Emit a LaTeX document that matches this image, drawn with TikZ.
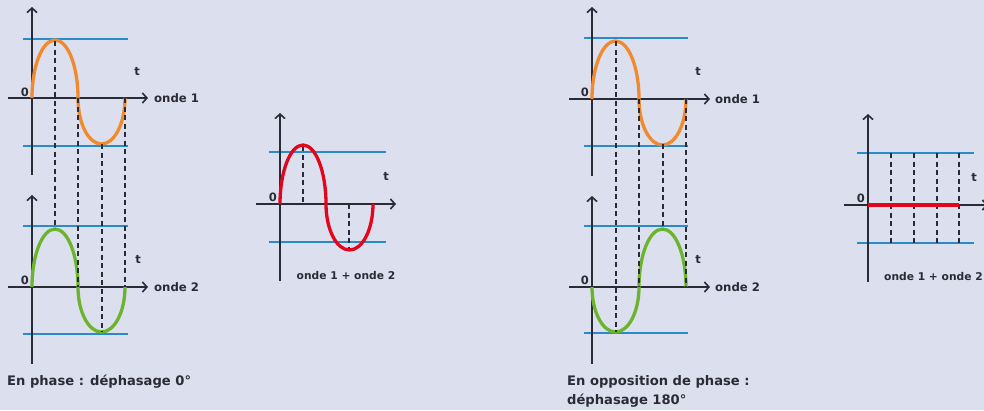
\documentclass[tikz,border=0pt]{standalone}
\usepackage{fontspec}
\setmainfont{DejaVu Sans}
\usetikzlibrary{arrows.meta}
\definecolor{bgc}{HTML}{DCDFEE}
\definecolor{axc}{HTML}{2B2B35}
\definecolor{bluec}{HTML}{2A8BCB}
\definecolor{orangec}{HTML}{F08A2C}
\definecolor{greenc}{HTML}{6DB42E}
\definecolor{redc}{HTML}{E2061C}
\tikzset{
  axis/.style={draw=axc, line width=1.7pt},
  axisarrow/.style={axis, -{Straight Barb[length=4.5pt,width=10pt,line width=1.6pt]}},
  level/.style={draw=bluec, line width=2pt},
  wave/.style={line width=3.3pt, line cap=butt},
  guide/.style={draw=axc, line width=1.5pt, dash pattern=on 5pt off 3.5pt},
  lbl/.style={font=\bfseries\fontsize{11.7}{14}\selectfont, text=axc, inner sep=0pt},
  sumlbl/.style={font=\bfseries\fontsize{10.7}{13}\selectfont, text=axc, inner sep=0pt},
  small/.style={font=\bfseries\fontsize{11.5}{13}\selectfont, text=axc, inner sep=0pt},
  captxt/.style={font=\bfseries\fontsize{13.1}{19}\selectfont, text=axc, inner sep=0pt},
}
\begin{document}
\begin{tikzpicture}[x=1pt,y=-1pt]
\fill[bgc] (0,0) rectangle (984,410);
\useasboundingbox (0,0) rectangle (984,410);

% ---------- Left: onde 1 ----------
\draw[level] (23,39) -- (128,39);
\draw[level] (23,146) -- (128,146);
\draw[axisarrow] (32,175) -- (32,7);
\draw[axisarrow] (8,98) -- (148,98);
\draw[wave, draw=orangec] (32,98) arc[start angle=180,end angle=0,x radius=23pt,y radius=58pt]
   arc[start angle=180,end angle=360,x radius=23.5pt,y radius=46pt];
\node[small, anchor=east] (z1) at (29,92) {0};
\node[small] (t1) at (137,71) {t};
\node[lbl, anchor=west] (o1) at (154,98) {onde 1};

% ---------- Left: onde 2 ----------
\draw[level] (23,226) -- (128,226);
\draw[level] (23,334) -- (128,334);
\draw[axisarrow] (32,364) -- (32,195);
\draw[axisarrow] (8,287) -- (148,287);
\draw[wave, draw=greenc] (32,287) arc[start angle=180,end angle=0,x radius=23pt,y radius=58pt]
   arc[start angle=180,end angle=360,x radius=23.5pt,y radius=45pt];
\node[small, anchor=east] (z2) at (29,280) {0};
\node[small] (t2) at (138,259) {t};
\node[lbl, anchor=west] (o2) at (154,287) {onde 2};

% guides left
\draw[guide] (55,41) -- (55,228);
\draw[guide] (78,98) -- (78,287);
\draw[guide] (102,144) -- (102,332);
\draw[guide] (125,98) -- (125,287);

\node[captxt, anchor=base west] (c1) at (7,385) {En phase : déphasage 0°};

% ---------- Left: sum ----------
\draw[level] (269,152) -- (386,152);
\draw[level] (269,242) -- (386,242);
\draw[axisarrow] (280,281) -- (280,113);
\draw[axisarrow] (256,204) -- (396,204);
\draw[guide] (303,146) -- (303,204);
\draw[guide] (349,204) -- (349,249);
\draw[wave, draw=redc] (280,204) arc[start angle=180,end angle=0,x radius=23pt,y radius=59pt]
   arc[start angle=180,end angle=360,x radius=23.5pt,y radius=46pt];
\node[small, anchor=east] (z3) at (277,197) {0};
\node[small] (t3) at (386,176) {t};
\node[sumlbl] (s1) at (346,276) {onde 1 + onde 2};

% ---------- Right: onde 1 ----------
\draw[level] (584,38) -- (688,38);
\draw[level] (584,146) -- (688,146);
\draw[axisarrow] (592,176) -- (592,7);
\draw[axisarrow] (569,99) -- (710,99);
\draw[wave, draw=orangec] (592,99) arc[start angle=180,end angle=0,x radius=23.5pt,y radius=58pt]
   arc[start angle=180,end angle=360,x radius=23.5pt,y radius=46pt];
\node[small, anchor=east] (z4) at (589,92) {0};
\node[small] (t4) at (698,71) {t};
\node[lbl, anchor=west] (o4) at (715,99) {onde 1};

% ---------- Right: onde 2 ----------
\draw[level] (584,226) -- (688,226);
\draw[level] (584,333) -- (688,333);
\draw[axisarrow] (592,364) -- (592,196);
\draw[axisarrow] (569,287) -- (710,287);
\draw[wave, draw=greenc] (592,287) arc[start angle=180,end angle=360,x radius=23.5pt,y radius=45pt]
   arc[start angle=180,end angle=0,x radius=23.5pt,y radius=58pt];
\node[small, anchor=east] (z5) at (589,280) {0};
\node[small] (t5) at (698,259) {t};
\node[lbl, anchor=west] (o5) at (715,287) {onde 2};

% guides right
\draw[guide] (616,41) -- (616,332);
\draw[guide] (639,99) -- (639,287);
\draw[guide] (663,144) -- (663,229);
\draw[guide] (686,99) -- (686,287);

\node[captxt, anchor=base west] (c2a) at (567,385) {En opposition de phase :};
\node[captxt, anchor=base west] (c2b) at (567,404) {déphasage 180°};

% ---------- Right: sum ----------
\draw[level] (857,153) -- (974,153);
\draw[level] (857,243) -- (974,243);
\draw[axisarrow] (868,282) -- (868,114);
\draw[axisarrow] (844,205) -- (988,205);
\foreach \gx in {891,914,937,959} \draw[guide] (\gx,153) -- (\gx,243);
\draw[wave, draw=redc] (868,205) -- (959,205);
\node[small, anchor=east] (z6) at (865,198) {0};
\node[small] (t6) at (974,177) {t};
\node[sumlbl, anchor=west] (s2) at (884,277) {onde 1 + onde 2};
\end{tikzpicture}
\end{document}
